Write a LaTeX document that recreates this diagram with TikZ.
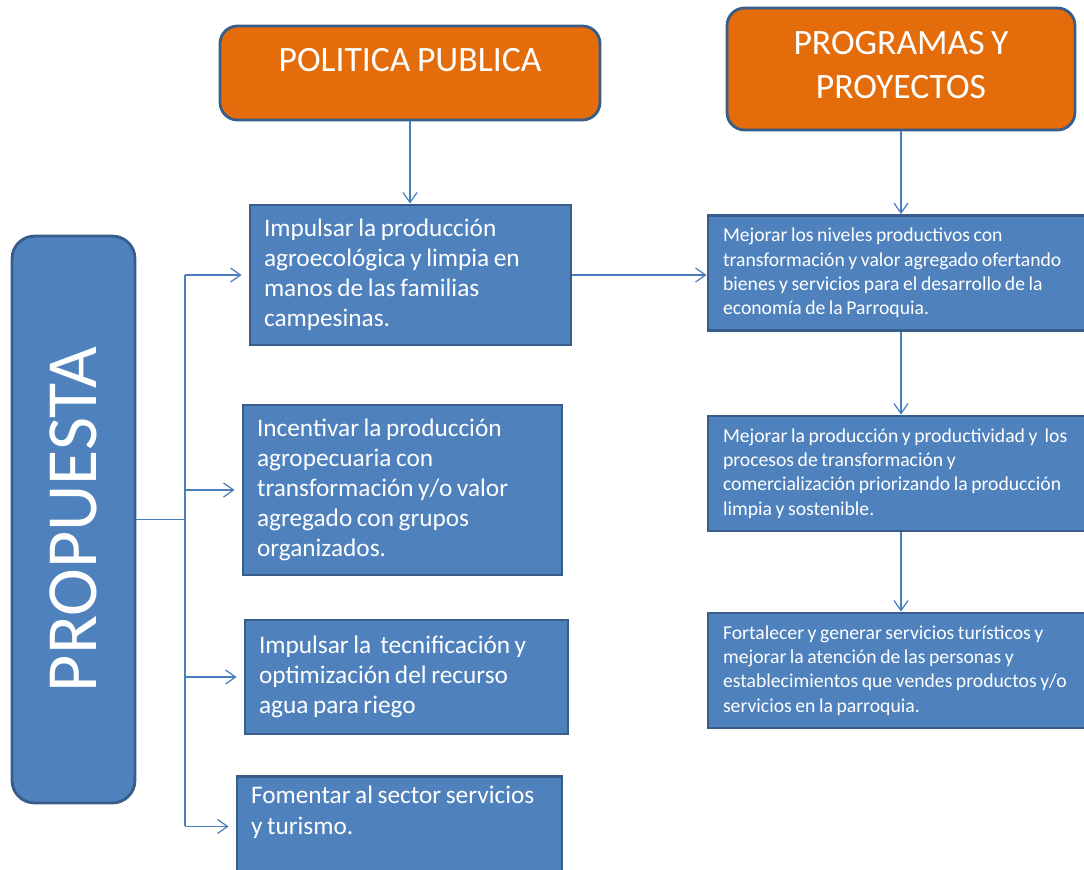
\documentclass[tikz,border=0pt]{standalone}
\usepackage{fontspec}
\setmainfont{Carlito}[WordSpace=0.8]
\usetikzlibrary{arrows.meta}
\hyphenpenalty=10000

\definecolor{azul}{HTML}{4F81BD}
\definecolor{bordeazul}{HTML}{385D8A}
\definecolor{naranja}{HTML}{E46C0A}
\definecolor{linea}{HTML}{4A7EBB}

\begin{document}
\begin{tikzpicture}[x=0.02cm,y=-0.02cm,>={Straight Barb[length=2mm,width=2.8mm]},
  conn/.style={linea,line width=0.7pt},
  titulo/.style={draw=bordeazul,fill=naranja,line width=1.6pt,rounded corners=0.35cm,text=white,align=center,font=\fontsize{20.3}{25}\selectfont},
  meta/.style={draw=bordeazul,fill=azul,line width=1.6pt,text=white,align=flush left,inner xsep=0.28cm,font=\fontsize{14.4}{17.1}\selectfont},
  prog/.style={meta,inner xsep=0.3cm,text width=7.8cm,minimum height=2.3cm,font=\fontsize{11.2}{13.8}\selectfont}]
 \useasboundingbox (0,0) rectangle (1084,869);
 % headers
 \node[titulo,minimum width=7.6cm,text height=0.46cm,text depth=0.52cm,inner ysep=0.45cm] (pol) at (410,73) {POLITICA PUBLICA};
 \node[titulo,minimum width=6.96cm,minimum height=2.44cm,text depth=0.16cm] (pp) at (901,69) {PROGRAMAS Y\\PROYECTOS};
 % propuesta
 \node[draw=bordeazul,fill=azul,line width=1.6pt,rounded corners=0.45cm,text=white,rotate=90,
   minimum width=11.34cm,minimum height=2.46cm,font=\fontsize{41}{49}\selectfont] (prop) at (73.5,519.5) {PROPUESTA};
 % politica publica
 \node[meta,text width=5.86cm,minimum height=2.8cm] (b1) at (410.5,275) {Impulsar la producción\\agroecológica y limpia en\\manos de las familias\\campesinas.};
 \node[meta,text width=5.82cm,minimum height=3.4cm] (b2) at (402.5,490) {Incentivar la producción\\agropecuaria con\\transformación y/o valor\\agregado con grupos\\organizados.};
 \node[meta,text width=5.90cm,minimum height=2.28cm] (b3) at (406.5,677) {Impulsar la \ tecnificación y\\optimización del recurso\\agua para riego};
 \node[meta,text width=5.94cm,anchor=north,inner ysep=0.2cm,text depth=1.25cm] (b4) at (399.5,775) {Fomentar al sector servicios\\y turismo.};
 % programas y proyectos
 \node[prog] (r1) at (918,273) {Mejorar los niveles productivos con\\transformación y valor agregado ofertando\\bienes y servicios para el desarrollo de la\\economía de la Parroquia.};
 \node[prog] (r2) at (918,473.5) {Mejorar la producción y productividad y \ los\\procesos de transformación y\\comercialización priorizando la producción\\limpia y sostenible.};
 \node[prog] (r3) at (918,670.5) {Fortalecer y generar servicios turísticos y\\mejorar la atención de las personas y\\establecimientos que vendes productos y/o\\servicios en la parroquia.};
 % connectors
 \coordinate (spine) at (185,275);
 \draw[conn] (prop.south) -- (prop.south -| spine);
 \draw[conn] (spine) -- (spine |- b4.west);
 \foreach \b in {b1,b2,b3,b4}
   \draw[conn,->,shorten >=4pt] (spine |- \b.west) -- (\b.west);
 \draw[conn,->] (pol.south) -- (pol.south |- b1.north);
 \draw[conn,->] (pp.south) -- (pp.south |- r1.north);
 \draw[conn,->] (b1.east) -- (b1.east -| r1.west);
 \draw[conn,->] (r1.south -| pp.south) -- (r2.north -| pp.south);
 \draw[conn,->] (r2.south -| pp.south) -- (r3.north -| pp.south);
\end{tikzpicture}
\end{document}
